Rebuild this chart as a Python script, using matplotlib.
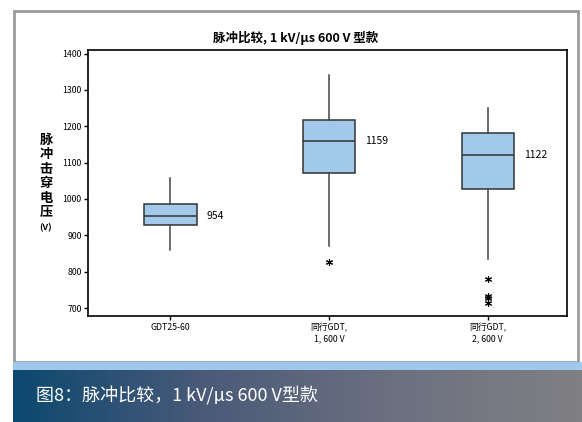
import numpy as np
import matplotlib
matplotlib.use("Agg")
import matplotlib.pyplot as plt
from matplotlib.patches import Rectangle
from matplotlib.colors import LinearSegmentedColormap

plt.rcParams['font.family'] = ['Noto Sans CJK SC', 'DejaVu Sans']

# data
labels = ["GDT25-60", "同行GDT,\n1, 600 V", "同行GDT,\n2, 600 V"]
medians = [954, 1159, 1122]
q1 = [929, 1071, 1027]
q3 = [987, 1216, 1181]
whis_lo = [860, 872, 835]
whis_hi = [1058, 1341, 1250]
outliers = [[], [826], [780, 733, 728, 715]]

W, H = 582, 422
fig = plt.figure(figsize=(W / 100, H / 100), dpi=100)

# outer frame and caption band
fig.patches.append(Rectangle((14 / W, 1 - 362 / H), 564 / W, 351 / H, transform=fig.transFigure,
                             facecolor='white', edgecolor='#9a9a9a', linewidth=2, zorder=-10))
fig.patches.append(Rectangle((13 / W, 1 - 370 / H), (W - 13) / W, 8 / H, transform=fig.transFigure,
                             facecolor='#9ec8ec', edgecolor='none', zorder=-5))
gax = fig.add_axes([13 / W, 0, (W - 13) / W, 52 / H])
grad = np.linspace(0, 1, 256).reshape(1, -1)
cmap = LinearSegmentedColormap.from_list('band', ['#0c4870', '#4a5a78', '#6c7080', '#808084'])
gax.imshow(grad, aspect='auto', cmap=cmap, extent=[0, 1, 0, 1])
gax.set_axis_off()
gax.text(0.041, 0.5, "图8：脉冲比较，1 kV/µs 600 V型款", color='white', fontsize=13,
         va='center', ha='left', transform=gax.transAxes)

ax = fig.add_axes([88 / W, 1 - 316 / H, (567 - 88) / W, (316 - 50) / H])
ax.patch.set_alpha(0)
stats = []
for i in range(3):
    stats.append(dict(med=medians[i], q1=q1[i], q3=q3[i], whislo=whis_lo[i],
                      whishi=whis_hi[i], fliers=outliers[i]))
ax.bxp(stats, positions=[1, 2, 3], widths=0.33, showcaps=False, patch_artist=True,
       boxprops=dict(facecolor='#a2c9ea', edgecolor='#333333', linewidth=1.1),
       medianprops=dict(color='#333333', linewidth=1.1),
       whiskerprops=dict(color='#444444', linewidth=1.1),
       flierprops=dict(marker=(6, 2, 0), markersize=5, markeredgewidth=0.8,
                       markeredgecolor='black', linestyle='none'))

for i in range(3):
    ax.text(i + 1 + 0.23, medians[i], str(medians[i]), fontsize=7.5, va='center', ha='left')

ax.set_xlim(0.48, 3.5)
ax.set_ylim(678, 1410)
ax.set_yticks([700, 800, 900, 1000, 1100, 1200, 1300, 1400])
ax.set_xticks([1, 2, 3])
ax.set_xticklabels(labels, fontsize=6.3, linespacing=1.35)
ax.tick_params(axis='y', labelsize=6.3, length=3, width=1, pad=1.5)
ax.tick_params(axis='x', length=3, width=1, pad=2)
for s in ax.spines.values():
    s.set_linewidth(1.2)

fig.text(296 / W, 1 - 38 / H, "脉冲比较, 1 kV/µs 600 V 型款", fontsize=9, fontweight='bold',
         ha='center', va='center')
fig.text(46 / W, 1 - 176 / H, "脉\n冲\n击\n穿\n电\n压", fontsize=9.5, fontweight='bold',
         ha='center', va='center', linespacing=1.05)
fig.text(46 / W, 1 - 228 / H, "(V)", fontsize=6.5, fontweight='bold', ha='center', va='center')

fig.savefig("out.png", dpi=100)
